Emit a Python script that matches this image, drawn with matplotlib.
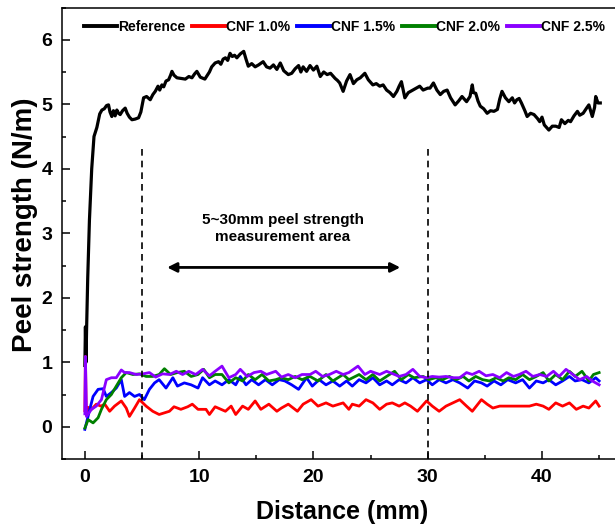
import matplotlib
matplotlib.use("Agg")
import matplotlib.pyplot as plt
from matplotlib.ticker import MultipleLocator

plt.rcParams['font.family'] = ['Liberation Sans', 'DejaVu Sans']
plt.rcParams['font.weight'] = 'bold'

# ---------------- data ----------------
reference = [(0.0, 0.95), (0.05, 1.55), (0.1, 1.0), (0.15, 1.5), (0.25, 2.3), (0.4, 3.2), (0.6, 4.0),
             (0.8, 4.5), (1.05, 4.64), (1.3, 4.85), (1.49, 4.91), (1.7, 4.93), (1.9, 4.98), (2.07, 4.99),
             (2.2, 4.88), (2.36, 4.81), (2.5, 4.9), (2.65, 4.82), (2.8, 4.91), (2.95, 4.86), (3.09, 4.84),
             (3.3, 4.9), (3.53, 4.94), (3.7, 4.86), (3.9, 4.80), (4.12, 4.76), (4.4, 4.77), (4.7, 4.79),
             (4.9, 4.88), (5.14, 5.10), (5.4, 5.12), (5.72, 5.07), (5.95, 5.15), (6.16, 5.20), (6.4, 5.28),
             (6.55, 5.22), (6.74, 5.30), (6.9, 5.27), (7.1, 5.36), (7.33, 5.38), (7.5, 5.45), (7.62, 5.51),
             (7.8, 5.45), (8.06, 5.41), (8.4, 5.40), (8.79, 5.39), (9.1, 5.43), (9.37, 5.41), (9.6, 5.47),
             (9.8, 5.51), (10.1, 5.42), (10.5, 5.39), (10.9, 5.50), (11.1, 5.58), (11.4, 5.64), (11.7, 5.66),
             (11.9, 5.62), (12.1, 5.70), (12.3, 5.72), (12.5, 5.68), (12.7, 5.79), (12.9, 5.74), (13.1, 5.76),
             (13.3, 5.72), (13.6, 5.78), (13.9, 5.82), (14.1, 5.70), (14.3, 5.59), (14.6, 5.63), (14.9, 5.58),
             (15.2, 5.61), (15.6, 5.66), (15.9, 5.58), (16.2, 5.56), (16.5, 5.61), (16.8, 5.54), (17.1, 5.64),
             (17.4, 5.52), (17.8, 5.46), (18.1, 5.48), (18.4, 5.55), (18.7, 5.60), (18.9, 5.50), (19.1, 5.58),
             (19.4, 5.51), (19.7, 5.60), (20.0, 5.53), (20.3, 5.59), (20.6, 5.43), (20.9, 5.50), (21.2, 5.46),
             (21.5, 5.48), (21.9, 5.40), (22.1, 5.37), (22.3, 5.33), (22.6, 5.20), (22.9, 5.36), (23.2, 5.46),
             (23.5, 5.32), (23.8, 5.38), (24.1, 5.41), (24.5, 5.48), (24.8, 5.38), (25.2, 5.30), (25.5, 5.32),
             (25.8, 5.28), (26.1, 5.30), (26.4, 5.22), (26.7, 5.18), (27.0, 5.12), (27.3, 5.20), (27.5, 5.28),
             (27.7, 5.35), (28.0, 5.10), (28.3, 5.18), (28.7, 5.22), (29.0, 5.25), (29.3, 5.28), (29.6, 5.22),
             (30.0, 5.25), (30.2, 5.25), (30.5, 5.33), (30.8, 5.22), (31.1, 5.15), (31.4, 5.20), (31.7, 5.22),
             (32.0, 5.10), (32.4, 4.99), (32.7, 5.05), (33.0, 5.12), (33.2, 5.08), (33.4, 5.04), (33.7, 5.12),
             (33.9, 5.30), (34.0, 5.18), (34.2, 5.17), (34.4, 5.05), (34.6, 4.97), (34.9, 4.93), (35.2, 4.86),
             (35.5, 4.90), (35.8, 4.89), (36.1, 4.92), (36.3, 5.08), (36.5, 5.20), (36.8, 5.10), (37.1, 5.04),
             (37.4, 5.10), (37.6, 5.02), (37.8, 5.07), (38.0, 5.09), (38.2, 5.02), (38.5, 4.90), (38.7, 4.81),
             (39.0, 4.86), (39.3, 4.84), (39.6, 4.78), (39.8, 4.73), (40.0, 4.80), (40.2, 4.68), (40.4, 4.64),
             (40.6, 4.60), (40.9, 4.66), (41.2, 4.66), (41.5, 4.64), (41.7, 4.76), (42.0, 4.70), (42.3, 4.75),
             (42.5, 4.73), (42.8, 4.82), (43.1, 4.89), (43.3, 4.83), (43.6, 4.86), (43.9, 4.94), (44.1, 4.99),
             (44.4, 4.81), (44.6, 4.95), (44.7, 5.12), (44.9, 5.02), (45.1, 5.02)]

cnf_10 = [(0, 0.25), (0.05, 1.09), (0.12, 0.22), (0.3, 0.3), (0.58, 0.27), (1.0, 0.35), (1.4, 0.32),
          (1.74, 0.35), (2.17, 0.24), (2.6, 0.32), (3.19, 0.40), (3.62, 0.29), (3.9, 0.16), (4.35, 0.29),
          (4.78, 0.42), (5.36, 0.32), (5.94, 0.24), (6.5, 0.19), (7.4, 0.24), (7.8, 0.31), (8.4, 0.27),
          (9.0, 0.31), (9.4, 0.35), (9.9, 0.27), (10.6, 0.27), (10.9, 0.19), (11.4, 0.31), (12.3, 0.24),
          (12.8, 0.32), (13.2, 0.19), (13.8, 0.32), (14.3, 0.27), (14.9, 0.40), (15.4, 0.27), (16.1, 0.35),
          (16.8, 0.24), (17.2, 0.29), (17.8, 0.35), (18.6, 0.24), (19.1, 0.35), (19.8, 0.42), (20.4, 0.32),
          (21.1, 0.37), (21.7, 0.32), (22.6, 0.37), (23.1, 0.27), (23.4, 0.35), (24.0, 0.32), (24.6, 0.42),
          (25.2, 0.37), (25.8, 0.27), (26.4, 0.35), (26.9, 0.37), (27.5, 0.32), (28.0, 0.37), (28.5, 0.32),
          (29.1, 0.24), (29.9, 0.40), (30.4, 0.32), (31.0, 0.24), (31.6, 0.32), (32.2, 0.37), (32.8, 0.42),
          (33.4, 0.32), (33.9, 0.24), (34.7, 0.42), (35.2, 0.35), (35.7, 0.29), (36.3, 0.32), (37.1, 0.32),
          (38.0, 0.32), (38.9, 0.32), (39.5, 0.35), (40.1, 0.32), (40.6, 0.27), (41.2, 0.37), (41.8, 0.32),
          (42.4, 0.37), (43.0, 0.27), (43.6, 0.32), (44.1, 0.29), (44.7, 0.40), (45.0, 0.32)]

cnf_15 = [(0, -0.04), (0.14, 0.06), (0.43, 0.27), (0.72, 0.47), (1.16, 0.58), (1.6, 0.59), (1.88, 0.47),
          (2.32, 0.53), (2.75, 0.60), (3.19, 0.73), (3.48, 0.47), (3.9, 0.53), (4.35, 0.47), (4.78, 0.50),
          (5.2, 0.42), (5.65, 0.58), (6.1, 0.68), (6.5, 0.73), (7.1, 0.60), (7.7, 0.76), (8.1, 0.63),
          (8.7, 0.68), (9.3, 0.65), (9.9, 0.60), (10.3, 0.76), (10.9, 0.65), (11.4, 0.71), (12.0, 0.65),
          (12.6, 0.73), (13.2, 0.65), (13.6, 0.78), (14.1, 0.65), (14.6, 0.73), (15.2, 0.65), (15.8, 0.73),
          (16.4, 0.65), (17.0, 0.73), (17.5, 0.71), (18.1, 0.65), (18.7, 0.58), (19.4, 0.76), (19.9, 0.63),
          (20.5, 0.73), (21.1, 0.65), (21.7, 0.71), (22.3, 0.63), (22.9, 0.71), (23.4, 0.63), (24.0, 0.73),
          (24.6, 0.68), (25.2, 0.76), (25.8, 0.65), (26.4, 0.71), (26.9, 0.65), (27.5, 0.73), (28.1, 0.68),
          (28.7, 0.76), (29.3, 0.68), (29.9, 0.73), (30.4, 0.65), (31.0, 0.73), (31.6, 0.68), (32.2, 0.73),
          (32.8, 0.68), (33.5, 0.60), (34.1, 0.71), (34.7, 0.68), (35.2, 0.63), (35.8, 0.71), (36.4, 0.65),
          (37.0, 0.73), (37.7, 0.68), (38.3, 0.73), (38.9, 0.60), (39.5, 0.71), (40.1, 0.68), (40.6, 0.73),
          (41.2, 0.65), (41.8, 0.71), (42.4, 0.78), (42.9, 0.71), (43.5, 0.73), (44.1, 0.68), (44.7, 0.76),
          (45.0, 0.71)]

cnf_20 = [(0, -0.02), (0.29, 0.11), (0.72, 0.06), (1.16, 0.14), (1.45, 0.27), (1.88, 0.42), (2.32, 0.50),
          (2.75, 0.63), (3.19, 0.76), (3.62, 0.84), (4.2, 0.81), (4.78, 0.82), (5.36, 0.78), (5.94, 0.78),
          (6.5, 0.81), (6.96, 0.90), (7.5, 0.81), (8.1, 0.84), (8.7, 0.86), (9.3, 0.78), (9.9, 0.81),
          (10.4, 0.89), (10.9, 0.76), (11.4, 0.81), (12.0, 0.81), (12.6, 0.68), (13.2, 0.76), (13.8, 0.71),
          (14.3, 0.81), (14.9, 0.73), (15.5, 0.81), (16.1, 0.71), (16.7, 0.73), (17.2, 0.76), (17.8, 0.73),
          (18.4, 0.78), (19.0, 0.73), (19.7, 0.78), (20.4, 0.71), (21.1, 0.81), (21.7, 0.71), (22.6, 0.81),
          (23.1, 0.73), (24.0, 0.81), (24.6, 0.73), (25.2, 0.81), (25.8, 0.71), (26.4, 0.78), (27.1, 0.86),
          (27.7, 0.73), (28.3, 0.81), (28.8, 0.76), (29.6, 0.78), (30.1, 0.73), (30.7, 0.76), (31.3, 0.73),
          (31.9, 0.78), (32.5, 0.73), (33.1, 0.78), (33.6, 0.71), (34.2, 0.78), (34.8, 0.73), (35.4, 0.71),
          (36.0, 0.76), (36.6, 0.71), (37.1, 0.76), (37.7, 0.73), (38.3, 0.81), (38.9, 0.73), (39.5, 0.78),
          (40.1, 0.84), (40.6, 0.71), (41.2, 0.81), (41.8, 0.73), (42.4, 0.86), (42.9, 0.78), (43.5, 0.86),
          (44.1, 0.71), (44.5, 0.81), (45.0, 0.84)]

cnf_25 = [(0, 0.2), (0.05, 1.09), (0.14, 0.16), (0.58, 0.27), (1.0, 0.32), (1.45, 0.42), (1.88, 0.73),
          (2.32, 0.76), (2.75, 0.76), (3.19, 0.88), (3.48, 0.84), (3.9, 0.84), (4.5, 0.81), (5.07, 0.82),
          (5.65, 0.84), (6.2, 0.77), (6.8, 0.82), (7.4, 0.81), (8.0, 0.86), (8.55, 0.81), (9.1, 0.86),
          (9.7, 0.81), (10.3, 0.89), (10.9, 0.79), (11.4, 0.86), (12.0, 0.94), (12.6, 0.76), (13.2, 0.81),
          (13.6, 0.89), (14.2, 0.78), (14.8, 0.84), (15.4, 0.86), (15.9, 0.81), (16.7, 0.86), (17.2, 0.77),
          (17.8, 0.81), (18.4, 0.76), (19.0, 0.81), (19.7, 0.81), (20.2, 0.86), (20.8, 0.78), (21.4, 0.81),
          (22.0, 0.86), (22.6, 0.81), (23.1, 0.84), (23.9, 0.94), (24.5, 0.81), (25.0, 0.86), (25.8, 0.81),
          (26.4, 0.86), (27.1, 0.81), (27.5, 0.78), (28.1, 0.81), (28.7, 0.89), (29.3, 0.78), (29.9, 0.76),
          (30.4, 0.78), (31.0, 0.77), (31.6, 0.78), (32.2, 0.76), (32.8, 0.76), (33.4, 0.84), (33.9, 0.81),
          (34.5, 0.86), (35.1, 0.79), (35.7, 0.81), (36.3, 0.76), (36.9, 0.84), (37.5, 0.78), (38.0, 0.81),
          (38.6, 0.86), (39.2, 0.78), (39.8, 0.81), (40.4, 0.78), (41.0, 0.86), (41.5, 0.78), (42.1, 0.89),
          (42.7, 0.81), (43.3, 0.73), (43.9, 0.78), (44.4, 0.71), (45.0, 0.65)]

series_labels = ["Reference", "CNF 1.0%", "CNF 1.5%", "CNF 2.0%", "CNF 2.5%"]
series_colors = ["black", "#FF0000", "#0000FF", "#008000", "#8A00FF"]
area_bounds = [5, 30]
annotation = "5~30mm peel strength\nmeasurement area"

# ---------------- plot ----------------
fig = plt.figure(figsize=(6.15, 5.29), dpi=100)
ax = fig.add_axes([62 / 615, 1 - 459 / 529, 560 / 615, 451.5 / 529])

all_series = [reference, cnf_10, cnf_15, cnf_20, cnf_25]
for data, lab, col in zip(all_series, series_labels, series_colors):
    xs = [p[0] for p in data]
    ys = [p[1] for p in data]
    lw = 2.3 if lab == "Reference" else 2.0
    ax.plot(xs, ys, color=col, lw=lw, label=lab, solid_joinstyle='round')

for xb in area_bounds:
    ax.plot([xb, xb], [-0.5, 4.37], color='black', lw=1.2, ls=(0, (4, 3)))

ax.annotate("", xy=(7.2, 2.47), xytext=(27.6, 2.47),
            arrowprops=dict(arrowstyle='<|-|>', color='black', lw=2,
                            mutation_scale=14, shrinkA=0, shrinkB=0))
ax.text(17.3, 3.07, annotation, ha='center', va='center', fontsize=11,
        fontweight='bold', linespacing=1.3)

ax.set_xlim(-2, 47)
ax.set_ylim(-0.5, 6.5)
ax.xaxis.set_major_locator(MultipleLocator(10))
ax.xaxis.set_minor_locator(MultipleLocator(5))
ax.yaxis.set_major_locator(MultipleLocator(1))
ax.yaxis.set_minor_locator(MultipleLocator(0.5))
ax.tick_params(which='major', direction='in', length=6, width=1.1, labelsize=14, pad=7)
ax.tick_params(which='minor', direction='in', length=3, width=1.1)
for lbl in ax.get_xticklabels() + ax.get_yticklabels():
    lbl.set_fontweight('bold')
for s in ax.spines.values():
    s.set_linewidth(1.1)

ax.set_xlabel("Distance (mm)", fontsize=18, fontweight='bold', labelpad=10)
ax.set_ylabel("Peel strength (N/m)", fontsize=20, fontweight='bold')
ax.yaxis.set_label_coords(-0.043, 0.519)

leg = ax.legend(loc='center left', bbox_to_anchor=(22 / 560, (459 - 27) / 451.5), ncol=5,
                frameon=False, fontsize=10, handlelength=2.35, handletextpad=0.1,
                columnspacing=0.5, borderpad=0, borderaxespad=0)
for t in leg.get_texts():
    t.set_fontweight('bold')
for h in leg.get_lines():
    h.set_linewidth(2.8)

fig.savefig("out.png", dpi=100)
